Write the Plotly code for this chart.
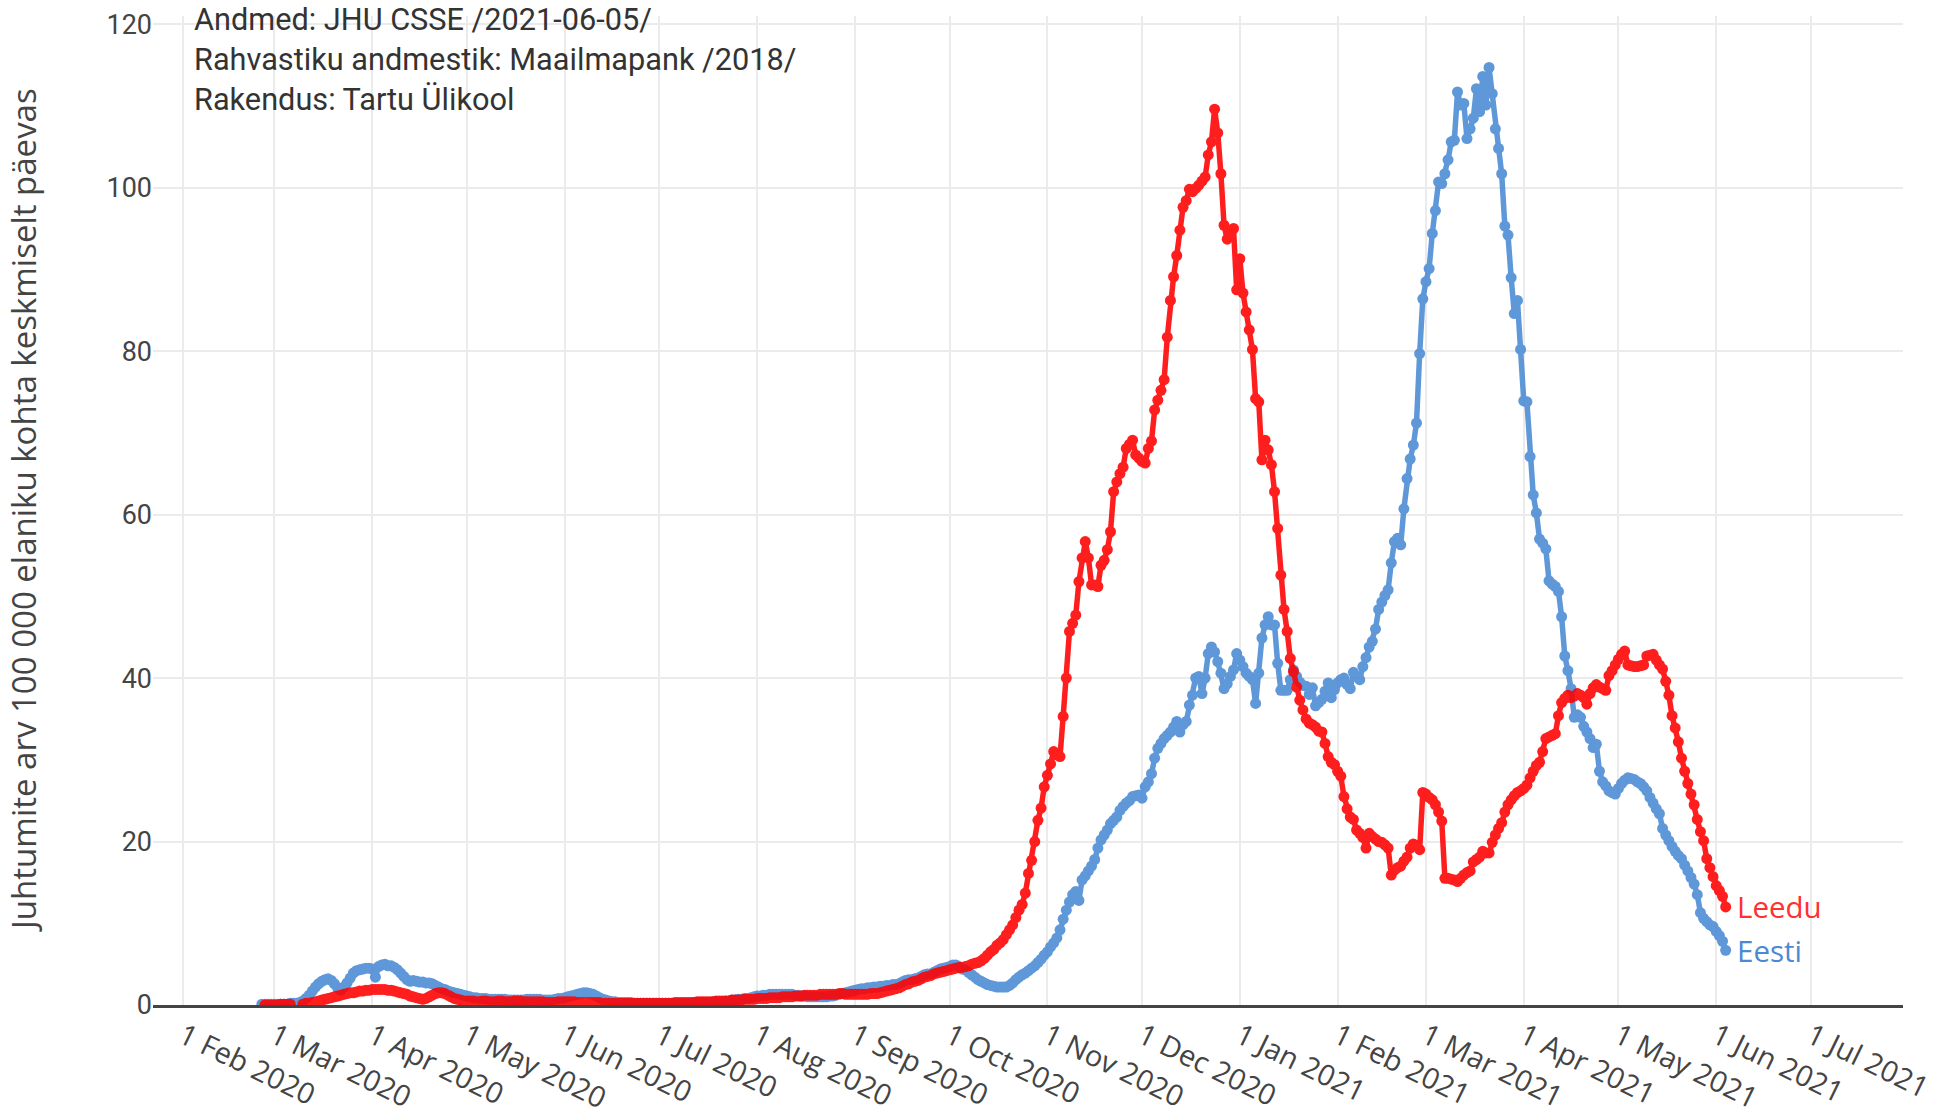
import plotly.graph_objects as go
import pandas as pd

start_date = "2020-02-26"

# Eesti (Estonia) - daily values from 2020-02-26 to 2021-06-04
eesti = (
    [0.1, 0.1, 0.1, 0.1] +  # Feb 2020
    [0.1, 0.1, 0.1, 0.1, 0.1, 0.2, 0.2, 0.2, 0.3, 0.5, 0.8, 1.2, 1.7, 2.2, 2.6, 2.9, 3.1, 3.2, 3.0, 2.6,
     2.1, 1.8, 2.2, 2.7, 3.3, 3.9, 4.2, 4.3, 4.4, 4.5, 4.5] +  # Mar
    [4.4, 3.4, 4.7, 4.9, 5.0, 4.8, 4.8, 4.6, 4.3, 3.9, 3.5, 3.1, 2.9, 3.0, 2.9, 2.8, 2.8, 2.7, 2.7, 2.6,
     2.4, 2.2, 2.0, 1.9, 1.7, 1.6, 1.5, 1.4, 1.3, 1.2] +  # Apr
    [1.1, 1.0, 0.9, 0.9, 0.8, 0.8, 0.8, 0.7, 0.7, 0.7, 0.7, 0.7, 0.7, 0.6, 0.6, 0.6, 0.6, 0.6, 0.6, 0.7,
     0.7, 0.7, 0.7, 0.7, 0.6, 0.6, 0.6, 0.6, 0.7, 0.8, 0.8] +  # May
    [0.9, 1.0, 1.1, 1.2, 1.3, 1.4, 1.5, 1.5, 1.4, 1.3, 1.1, 0.9, 0.7, 0.6, 0.5, 0.4, 0.4, 0.3, 0.3, 0.3,
     0.3, 0.3, 0.2, 0.2, 0.2, 0.2, 0.2, 0.2, 0.2, 0.2] +  # Jun
    [0.2, 0.2, 0.2, 0.2, 0.2, 0.2, 0.2, 0.2, 0.2, 0.2, 0.2, 0.3, 0.3, 0.3, 0.3, 0.3, 0.3, 0.4, 0.4, 0.4,
     0.4, 0.5, 0.5, 0.6, 0.6, 0.7, 0.7, 0.8, 0.8, 0.9, 1.0] +  # Jul
    [1.1, 1.1, 1.2, 1.2, 1.3, 1.3, 1.3, 1.3, 1.3, 1.3, 1.3, 1.3, 1.2, 1.2, 1.1, 1.1, 1.0, 1.0, 1.0, 1.0,
     1.0, 1.0, 1.0, 1.1, 1.1, 1.2, 1.3, 1.4, 1.5, 1.6, 1.7] +  # Aug
    [1.8, 1.9, 2.0, 2.0, 2.1, 2.1, 2.2, 2.2, 2.3, 2.3, 2.4, 2.4, 2.5, 2.5, 2.6, 2.8, 3.0, 3.1, 3.1, 3.2,
     3.3, 3.5, 3.7, 3.8, 3.8, 4.0, 4.2, 4.4, 4.5, 4.6] +  # Sep
    [4.7, 4.9, 4.9, 4.7, 4.4, 4.3, 4.0, 3.7, 3.4, 3.1, 2.9, 2.7, 2.5, 2.4, 2.3, 2.2, 2.2, 2.2, 2.2, 2.4,
     2.7, 3.1, 3.4, 3.7, 3.9, 4.2, 4.5, 4.8, 5.2, 5.6, 6.1] +  # Oct
    [6.5, 7.1, 7.6, 8.2, 9.2, 10.5, 11.6, 12.6, 13.5, 13.9, 12.8, 15.3, 15.8, 16.4, 17.0, 17.8, 19.2, 20.2, 20.8, 21.4,
     22.2, 22.6, 23.0, 23.8, 24.3, 24.7, 25.0, 25.5, 25.6, 25.7] +  # Nov
    [25.3, 26.7, 27.3, 28.3, 30.2, 31.4, 32.0, 32.6, 33.0, 33.4, 34.0, 34.7, 33.4, 34.3, 34.7, 36.7, 37.9, 40.0, 40.2, 38.1,
     40.0, 43.0, 43.8, 43.2, 42.0, 40.6, 38.7, 39.3, 40.2, 41.0, 43.0] +  # Dec
    [42.2, 41.4, 40.6, 40.2, 39.8, 36.9, 40.6, 44.9, 46.5, 47.5, 46.5, 46.5, 41.8, 38.5, 38.5, 38.5, 39.8, 41.0, 40.2, 39.5,
     39.1, 39.0, 38.0, 38.8, 36.6, 37.0, 37.4, 38.4, 39.4, 37.6, 38.6] +  # Jan 2021
    [39.4, 39.8, 40.0, 39.2, 38.7, 40.7, 40.2, 39.8, 41.4, 42.5, 43.8, 44.5, 46.0, 48.4, 49.3, 50.1, 50.8, 54.1, 56.7, 57.1,
     56.3, 60.7, 64.4, 66.8, 68.5, 71.2, 79.7, 86.4] +  # Feb
    [88.5, 90.1, 94.4, 97.2, 100.7, 100.5, 101.7, 103.4, 105.6, 105.8, 111.7, 110.1, 110.3, 106.0, 107.2, 108.5, 112.1, 109.3, 113.6, 110.1,
     114.7, 111.5, 107.2, 104.8, 101.7, 95.3, 94.2, 89.0, 84.6, 86.2, 80.2] +  # Mar
    [73.9, 73.8, 67.1, 62.4, 60.2, 57.0, 56.5, 55.8, 51.9, 51.5, 51.2, 50.6, 47.5, 42.7, 40.9, 38.7, 35.2, 35.5, 35.2, 34.1,
     33.4, 32.6, 31.5, 31.9, 28.6, 27.3, 26.8, 26.2, 26.0, 25.8] +  # Apr
    [26.5, 27.1, 27.5, 27.8, 27.7, 27.6, 27.3, 27.1, 26.7, 26.2, 25.4, 24.7, 24.0, 23.4, 21.6, 20.8, 20.1, 19.4, 18.8, 18.3,
     17.9, 17.1, 16.4, 15.6, 14.8, 13.5, 11.3, 10.6, 10.2, 9.8, 9.6] +  # May
    [9.0, 8.5, 7.8, 6.7]  # Jun
)

# Leedu (Lithuania) - daily values from 2020-02-26 to 2021-06-04
leedu = (
    [None, 0.0, 0.0, 0.0] +  # Feb 2020
    [0.0, 0.0, 0.1, 0.1, 0.1, 0.1, None, None, None, 0.1, 0.2, 0.2, 0.3, 0.4, 0.5, 0.6, 0.7, 0.8, 0.9, 1.0,
     1.1, 1.2, 1.3, 1.4, 1.5, 1.5, 1.6, 1.7, 1.7, 1.8, 1.8] +  # Mar
    [1.9, 1.9, 1.9, 1.9, 1.9, 1.8, 1.8, 1.7, 1.6, 1.5, 1.4, 1.3, 1.1, 1.0, 0.9, 0.8, 0.7, 0.8, 1.0, 1.2,
     1.4, 1.5, 1.5, 1.4, 1.2, 1.0, 0.8, 0.7, 0.6, 0.5] +  # Apr
    [0.5, 0.5, 0.5, 0.4, 0.4, 0.5, 0.5, 0.4, 0.4, 0.4, 0.5, 0.5, 0.4, 0.4, 0.4, 0.5, 0.5, 0.5, 0.4, 0.4,
     0.4, 0.4, 0.4, 0.4, 0.4, 0.3, 0.3, 0.3, 0.3, 0.4, 0.4] +  # May
    [0.4, 0.4, 0.4, 0.4, 0.3, 0.3, 0.3, 0.3, 0.3, 0.3, 0.3, 0.3, 0.2, 0.2, 0.2, 0.2, 0.2, 0.2, 0.2, 0.2,
     0.2, 0.2, 0.2, 0.2, 0.2, 0.2, 0.2, 0.2, 0.2, 0.2] +  # Jun
    [0.2, 0.2, 0.2, 0.2, 0.2, 0.3, 0.3, 0.3, 0.3, 0.3, 0.3, 0.3, 0.4, 0.4, 0.4, 0.4, 0.4, 0.4, 0.5, 0.5,
     0.5, 0.5, 0.5, 0.6, 0.6, 0.6, 0.6, 0.7, 0.7, 0.7, 0.7] +  # Jul
    [0.8, 0.8, 0.8, 0.8, 0.9, 0.9, 0.9, 0.9, 1.0, 1.0, 1.0, 1.0, 1.1, 1.1, 1.1, 1.2, 1.2, 1.2, 1.2, 1.2,
     1.3, 1.3, 1.3, 1.3, 1.3, 1.3, 1.4, 1.4, 1.3, 1.3, 1.3] +  # Aug
    [1.3, 1.3, 1.3, 1.3, 1.3, 1.4, 1.4, 1.4, 1.5, 1.6, 1.7, 1.8, 1.9, 2.0, 2.1, 2.3, 2.5, 2.6, 2.8, 2.9,
     3.0, 3.2, 3.4, 3.5, 3.6, 3.8, 3.9, 4.0, 4.1, 4.2] +  # Sep
    [4.3, 4.4, 4.5, 4.6, 4.6, 4.7, 4.8, 5.0, 5.1, 5.2, 5.4, 5.7, 6.1, 6.5, 6.8, 7.3, 7.6, 8.0, 8.6, 9.2,
     9.8, 10.7, 11.6, 12.3, 13.7, 16.1, 17.7, 20.0, 22.6, 24.1, 26.7] +  # Oct
    [28.1, 29.5, 31.0, 30.6, 30.4, 35.3, 40.0, 45.7, 46.7, 47.7, 51.8, 54.7, 56.7, 54.7, 51.4, 51.4, 51.2, 53.8, 54.4, 55.7,
     57.9, 62.8, 64.0, 65.0, 65.8, 68.1, 68.6, 69.1, 67.3, 66.9] +  # Nov
    [66.5, 66.3, 68.1, 69.0, 72.8, 74.0, 75.2, 76.5, 81.7, 86.2, 89.1, 91.7, 94.8, 97.6, 98.4, 99.8, 99.5, 99.9, 100.3, 100.8,
     101.3, 104.0, 105.6, 109.6, 106.7, 101.7, 95.4, 93.7, 94.4, 95.0, 87.5] +  # Dec
    [91.3, 87.1, 84.8, 82.6, 80.2, 74.2, 73.8, 66.7, 69.1, 67.9, 66.1, 62.8, 58.3, 52.6, 48.4, 45.7, 42.4, 40.8, 38.9, 37.3,
     36.1, 35.0, 34.5, 34.3, 34.0, 33.5, 33.4, 32.0, 30.4, 29.7, 29.4] +  # Jan 2021
    [28.6, 28.0, 25.5, 24.0, 23.0, 22.7, 21.4, 21.0, 20.5, 19.2, 21.0, 20.6, 20.3, 20.0, 19.9, 19.6, 19.2, 15.9, 16.5, 16.8,
     17.0, 17.6, 18.1, 19.2, 19.7, 19.5, 19.0, 26.0] +  # Feb
    [25.8, 25.4, 25.1, 24.5, 23.6, 22.5, 15.5, 15.5, 15.4, 15.3, 15.1, 15.5, 15.9, 16.2, 16.4, 17.5, 17.8, 18.1, 18.8, 18.6,
     18.6, 19.9, 20.8, 21.6, 22.3, 23.6, 24.5, 25.1, 25.6, 26.0, 26.2] +  # Mar
    [26.5, 26.9, 27.8, 28.6, 29.3, 29.7, 31.0, 32.6, 32.8, 33.0, 33.2, 35.4, 37.0, 37.5, 37.9, 37.6, 37.8, 38.1, 37.9, 37.6,
     36.8, 38.1, 38.8, 39.2, 38.9, 38.7, 38.5, 40.3, 40.9, 41.6] +  # Apr
    [42.3, 42.9, 43.3, 41.6, 41.5, 41.4, 41.4, 41.5, 41.6, 42.7, 42.8, 42.9, 42.2, 41.6, 41.1, 39.6, 37.9, 35.4, 33.9, 32.2,
     30.2, 28.6, 27.1, 25.8, 24.5, 22.7, 21.2, 20.1, 17.9, 16.8, 15.7] +  # May
    [14.6, 14.0, 13.3, 12.0]  # Jun
)

series_names = ["Eesti", "Leedu"]
series_colors = ["#4a8ad4", "#ff0000"]
label_colors = ["#4a8ad4", "#ff3030"]

y_ticks = [0, 20, 40, 60, 80, 100, 120]
y_title = "Juhtumite arv 100 000 elaniku kohta keskmiselt päevas"
source_lines = ["Andmed: JHU CSSE /2021-06-05/",
                "Rahvastiku andmestik: Maailmapank /2018/",
                "Rakendus: Tartu Ülikool"]

assert len(eesti) == len(leedu), (len(eesti), len(leedu))
dates = pd.date_range(start_date, periods=len(eesti), freq="D")

fig = go.Figure()
for name, vals, col in zip(series_names, [eesti, leedu], series_colors):
    fig.add_trace(go.Scatter(
        x=dates, y=vals, mode="lines+markers", name=name,
        line=dict(color=col, width=5.5), marker=dict(color=col, size=11),
        opacity=0.88, connectgaps=False, showlegend=False,
    ))

# end labels
for name, vals, col in zip(series_names, [eesti, leedu], label_colors):
    fig.add_annotation(x=dates[-1], y=vals[-1], text=name, showarrow=False,
                       xanchor="left", yanchor="middle", xshift=9,
                       font=dict(family="Open Sans", size=29.5, color=col))

fig.add_annotation(xref="paper", yref="paper", x=0.022, y=1.016, xanchor="left", yanchor="top",
                   align="left", showarrow=False, text="<br>".join(source_lines),
                   font=dict(family="Roboto", size=30.7, color="#333333"))

fig.add_annotation(xref="paper", yref="paper", x=-0.074, y=0.5, xanchor="center", yanchor="middle",
                   textangle=-90, showarrow=False, text=y_title,
                   font=dict(family="Open Sans", size=33, color="#444444"))

fig.update_layout(
    width=1934, height=1116,
    margin=dict(l=153, r=31, t=16, b=111, autoexpand=False),
    paper_bgcolor="white", plot_bgcolor="white",
    font=dict(family="Open Sans", color="#444444"),
    xaxis=dict(
        range=["2020-01-22 12:00", "2021-07-30 05:00"], automargin=False,
        type="date", tick0="2020-02-01", dtick="M1", tickformat="%-d %b %Y",
        tickangle=26, tickfont=dict(family="Open Sans", size=29, color="#444444"),
        ticklabeloverflow="allow",
        showgrid=True, gridcolor="#ebebeb", gridwidth=2,
        showline=True, linecolor="#444444", linewidth=3, ticks="", zeroline=False,
    ),
    yaxis=dict(
        range=[0, 121], tickvals=y_ticks, automargin=False,
        tickfont=dict(family="Roboto", size=27, color="#444444"),
        showgrid=True, gridcolor="#ebebeb", gridwidth=2, zeroline=False,
    ),
)

fig.write_html("out.html", config={"displayModeBar": False},
               post_script="document.body.style.margin='0';document.body.style.overflow='hidden';")
